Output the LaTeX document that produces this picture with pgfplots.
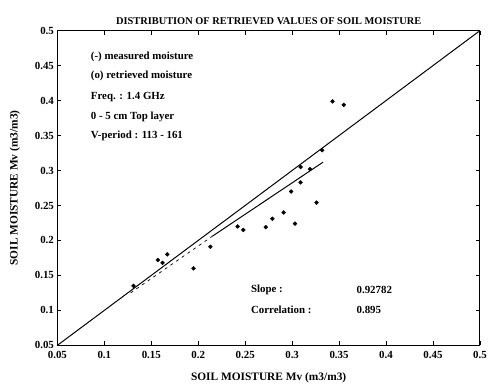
\documentclass[border=0pt]{standalone}
\usepackage{fontspec}
\setmainfont{Liberation Serif}
\usepackage{pgfplots}
\pgfplotsset{compat=1.18}
\usetikzlibrary{calc}
\begin{document}
\begin{tikzpicture}
\begin{axis}[
    scale only axis,
    width=427pt, height=318pt,
    xmin=0.05, xmax=0.5, ymin=0.05, ymax=0.5,
    xtick={0.05,0.1,...,0.5}, ytick={0.05,0.1,...,0.5},
    xticklabels={0.05,0.1,0.15,0.2,0.25,0.3,0.35,0.4,0.45,0.5},
    yticklabels={0.05,0.1,0.15,0.2,0.25,0.3,0.35,0.4,0.45,0.5},
    tick align=inside, major tick length=4pt,
    tick style={black, line width=0.6pt},
    axis line style={line width=1pt},
    ticklabel style={font=\fontsize{11}{13}\selectfont\bfseries},
    xticklabel style={yshift=-2pt},
    title={\fontsize{10.5}{12}\selectfont\bfseries DISTRIBUTION OF RETRIEVED VALUES OF SOIL MOISTURE},
    title style={yshift=-3pt},
    xlabel={\fontsize{11.5}{13}\selectfont\bfseries SOIL MOISTURE Mv (m3/m3)},
    ylabel={\fontsize{11.5}{13}\selectfont\bfseries SOIL MOISTURE Mv (m3/m3)},
    xlabel style={yshift=-8pt},
    ylabel style={yshift=8pt},
]
% 1:1 line
\addplot[black, line width=1pt] coordinates {(0.05,0.05) (0.5,0.5)};
% regression line
\addplot[black, line width=0.7pt, dash pattern=on 3pt off 4pt] coordinates {(0.128,0.125) (0.215,0.206)};
\addplot[black, line width=1pt] coordinates {(0.215,0.206) (0.333,0.312)};
% retrieved points
\addplot[only marks, mark=*, mark size=2pt, black] coordinates {
 (0.343,0.399) (0.355,0.394) (0.332,0.329) (0.309,0.305) (0.319,0.302)
 (0.309,0.283) (0.299,0.270) (0.326,0.254) (0.291,0.240) (0.279,0.231)
 (0.272,0.219) (0.303,0.224) (0.242,0.220) (0.248,0.215) (0.213,0.191)
 (0.167,0.180) (0.157,0.172) (0.162,0.168) (0.195,0.160) (0.131,0.135)
};
\node[anchor=west, font=\fontsize{11}{13}\selectfont\bfseries] at (axis cs:0.082,0.463) {(-) measured moisture};
\node[anchor=west, font=\fontsize{11}{13}\selectfont\bfseries] at (axis cs:0.082,0.435) {(o) retrieved moisture};
\node[anchor=west, font=\fontsize{11}{13}\selectfont\bfseries] at (axis cs:0.082,0.405) {Freq. : 1.4 GHz};
\node[anchor=west, font=\fontsize{11}{13}\selectfont\bfseries] at (axis cs:0.082,0.377) {0 - 5 cm Top layer};
\node[anchor=west, font=\fontsize{11}{13}\selectfont\bfseries] at (axis cs:0.082,0.349) {V-period : 113 - 161};
\node[anchor=west, font=\fontsize{11}{13}\selectfont\bfseries] at (axis cs:0.2525,0.129) {Slope :};
\node[anchor=west, font=\fontsize{11}{13}\selectfont\bfseries] at (axis cs:0.2525,0.101) {Correlation :};
\node[anchor=west, font=\fontsize{11}{13}\selectfont\bfseries] at (axis cs:0.365,0.129) {0.92782};
\node[anchor=west, font=\fontsize{11}{13}\selectfont\bfseries] at (axis cs:0.365,0.101) {0.895};
\end{axis}
\path ($(current axis.south west)+(-58pt,-47pt)$) rectangle ($(current axis.north east)+(5pt,31pt)$);
\end{tikzpicture}
\end{document}
